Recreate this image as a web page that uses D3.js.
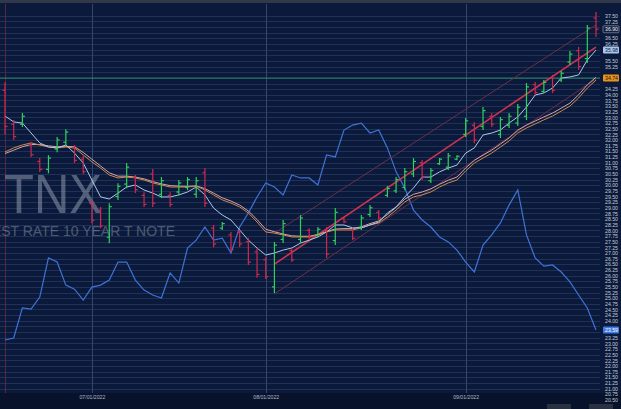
<!DOCTYPE html>
<html>
<head>
<meta charset="utf-8">
<script src="https://cdn.jsdelivr.net/npm/d3@7"></script>
<style>
  html, body { margin: 0; padding: 0; background: #0b1a3b; overflow: hidden; }
  svg { display: block; font-family: "Liberation Sans", Arial, sans-serif; }
</style>
</head>
<body>
<svg></svg>
<script>
var width = 621, height = 409;

// trading days, 16 Jun - 23 Sep 2022
var dates = ["06/16","06/17","06/21","06/22","06/23","06/24","06/27","06/28","06/29","06/30",
  "07/01","07/05","07/06","07/07","07/08","07/11","07/12","07/13","07/14","07/15",
  "07/18","07/19","07/20","07/21","07/22","07/25","07/26","07/27","07/28","07/29",
  "08/01","08/02","08/03","08/04","08/05","08/08","08/09","08/10","08/11","08/12",
  "08/15","08/16","08/17","08/18","08/19","08/22","08/23","08/24","08/25","08/26",
  "08/29","08/30","08/31",
  "09/01","09/02","09/06","09/07","09/08","09/09","09/12","09/13","09/14","09/15",
  "09/16","09/19","09/20","09/21","09/22","09/23"];

var opens = [34.20,32.70,32.70,31.80,31.05,30.70,31.60,31.90,31.65,31.15,
  29.20,28.90,27.70,29.50,30.05,30.35,29.55,30.50,29.60,29.55,
  29.70,29.90,29.60,30.55,28.10,28.10,27.80,27.90,27.50,27.05,
  26.70,25.50,27.60,27.10,27.60,28.00,27.80,28.00,27.55,28.55,
  28.00,28.10,28.70,28.80,29.55,29.75,29.90,30.50,31.00,30.20,
  30.95,30.80,31.15,
  32.25,32.65,32.60,33.05,32.25,32.65,32.75,33.05,34.45,34.15,
  34.75,34.65,35.45,35.95,35.60,37.40];
var highs = [34.55,32.88,33.19,31.91,31.20,31.33,32.13,32.48,31.78,31.30,
  29.35,29.04,29.20,30.09,30.98,30.45,29.69,30.72,30.36,29.69,
  30.23,30.36,30.36,30.76,28.24,28.37,27.93,28.02,27.66,27.22,
  26.82,27.49,28.46,27.22,28.68,28.10,28.15,28.15,28.99,28.59,
  28.10,28.68,29.12,28.90,29.96,30.36,30.76,31.20,31.11,30.76,
  31.20,31.42,31.33,
  32.97,32.79,33.46,33.19,33.02,33.19,33.59,34.52,34.57,34.65,
  34.88,35.05,35.94,36.11,37.09,37.66];
var lows = [32.25,32.00,32.57,31.25,30.58,30.53,31.46,31.77,30.98,30.50,
  28.32,28.10,27.43,29.35,29.87,29.65,29.03,29.03,29.43,29.03,
  29.56,29.78,29.43,29.03,27.26,28.02,27.04,27.26,26.47,25.90,
  25.85,25.23,27.44,26.60,27.44,27.58,27.70,26.78,27.35,28.32,
  27.58,28.02,28.59,28.46,29.47,29.65,29.78,30.36,30.23,30.10,
  30.90,30.67,31.10,
  32.13,31.86,32.44,32.57,32.09,32.53,32.62,32.88,33.99,34.08,
  34.08,34.57,35.32,35.10,35.41,36.56];
var closes = [32.60,32.15,33.05,31.35,30.70,31.20,32.00,32.35,31.10,30.60,
  28.45,28.20,29.05,29.95,30.80,29.80,29.15,29.20,30.20,29.15,
  30.10,30.25,30.20,29.20,27.40,28.30,27.15,27.40,26.60,26.05,
  25.95,27.35,28.30,26.70,28.55,27.70,28.05,26.95,28.80,28.38,
  27.65,28.55,29.00,28.55,29.85,30.25,30.60,31.05,30.35,30.65,
  31.15,31.30,31.28,
  32.85,32.00,33.30,32.70,32.90,33.05,33.45,34.35,34.10,34.55,
  34.20,34.95,35.80,35.25,36.95,36.90];

// fast average (light blue)
var maFast = [33.06,32.80,32.75,32.31,31.87,31.69,31.65,31.78,31.42,30.98,
  30.23,29.48,29.39,29.65,29.92,30.01,29.79,29.65,29.48,29.48,
  29.57,29.70,29.92,29.57,28.99,28.68,28.46,28.02,27.57,27.22,
  26.91,27.00,27.13,27.22,27.44,27.57,27.71,27.93,28.24,28.24,
  28.11,28.11,28.24,28.37,28.77,29.04,29.48,29.88,30.36,30.36,
  30.59,30.76,30.89,
  31.42,31.65,32.22,32.31,32.44,32.75,33.02,33.46,33.99,34.08,
  34.30,34.74,34.79,34.88,35.54,35.98];
// slow averages (tan and pink)
var maSlow = [31.47,31.65,31.78,31.87,31.78,31.69,31.65,31.69,31.65,31.34,
  31.03,30.76,30.45,30.32,30.36,30.32,30.23,30.10,30.01,29.92,
  29.92,29.92,29.96,29.79,29.57,29.35,29.21,29.04,28.77,28.37,
  27.93,27.88,27.80,27.71,27.71,27.71,27.80,27.93,28.02,28.02,
  28.02,28.11,28.24,28.33,28.59,28.90,29.26,29.48,29.57,29.70,
  29.92,30.10,30.23,
  30.63,30.98,31.20,31.42,31.69,31.96,32.31,32.53,32.71,32.89,
  33.06,33.28,33.50,33.86,34.30,34.65];
var maSlow2 = [31.40,31.55,31.70,31.80,31.80,31.74,31.70,31.72,31.70,31.45,
  31.15,30.85,30.55,30.40,30.40,30.36,30.28,30.16,30.06,29.98,
  29.96,29.95,29.97,29.85,29.65,29.44,29.30,29.12,28.86,28.48,
  28.05,27.94,27.84,27.76,27.74,27.74,27.82,27.95,28.06,28.08,
  28.08,28.16,28.30,28.42,28.70,29.02,29.38,29.60,29.70,29.84,
  30.04,30.22,30.36,
  30.76,31.10,31.33,31.55,31.82,32.09,32.44,32.66,32.84,33.02,
  33.19,33.41,33.63,34.00,34.44,34.78];

// comparison line (blue)
var compare = [23.15,23.24,24.57,24.52,25.05,26.78,26.60,25.58,25.40,24.92,
  25.49,25.58,25.80,26.60,26.60,25.80,25.36,25.14,25.01,26.12,
  25.67,27.22,27.57,28.15,27.57,27.66,27.00,28.15,28.77,29.48,
  30.10,29.92,29.57,30.45,30.32,30.32,30.01,31.34,31.25,32.44,
  32.66,32.75,32.31,32.44,31.65,30.59,29.88,28.90,28.46,28.15,
  27.71,27.49,27.13,
  26.60,26.16,27.35,27.80,28.33,29.12,29.79,27.80,26.78,26.42,
  26.47,26.16,25.72,25.14,24.57,23.59];

// trend channel, from 08/02 to 09/23
var channelDates = ["08/02","09/23"];
var channelUpper = [27.88,37.09];
var channelMid = [26.51,36.11];
var channelLower = [25.19,34.70];

var levelLine = 34.74;
var monthTicks = ["07/01","08/01","09/01"];

var svg = d3.select("svg").attr("width", width).attr("height", height);

var plotRight = 600, plotTop = 4, plotBottom = 393;

var x = d3.scalePoint().domain(dates).range([5, 596]);
var y = d3.scaleLinear().domain([20.5, 37.5]).range([399.9, 15.7]);

svg.append("rect").attr("width", width).attr("height", height).attr("fill", "#0b1a3b");
svg.append("rect").attr("width", width).attr("height", 3).attr("fill", "#30384a");
svg.append("rect").attr("y", plotBottom).attr("width", width).attr("height", height - plotBottom)
  .attr("fill", "#08122a");

svg.append("clipPath").attr("id", "plot")
  .append("rect").attr("x", 0).attr("y", plotTop).attr("width", plotRight).attr("height", plotBottom - plotTop);

var yTicks = d3.range(37.5, 20.4, -0.25);

// horizontal grid
svg.append("g")
  .selectAll("line")
  .data(yTicks.filter(function(d) { return y(d) < plotBottom; }))
  .enter().append("line")
  .attr("x1", 0).attr("x2", plotRight)
  .attr("y1", function(d) { return Math.round(y(d)) + 0.5; })
  .attr("y2", function(d) { return Math.round(y(d)) + 0.5; })
  .attr("stroke", "#1f3158").attr("stroke-width", 1);

// month lines
svg.append("g")
  .selectAll("line")
  .data(monthTicks)
  .enter().append("line")
  .attr("x1", function(d) { return Math.round(x(d)) + 0.5; })
  .attr("x2", function(d) { return Math.round(x(d)) + 0.5; })
  .attr("y1", plotTop).attr("y2", plotBottom)
  .attr("stroke", "#33466e").attr("stroke-width", 1);

// first day marker
svg.append("line")
  .attr("x1", x(dates[0]) + 0.5).attr("x2", x(dates[0]) + 0.5)
  .attr("y1", plotTop).attr("y2", plotBottom)
  .attr("stroke", "#7a2a45").attr("stroke-width", 1).attr("opacity", 0.7);

// level line
svg.append("line")
  .attr("x1", 0).attr("x2", plotRight)
  .attr("y1", y(levelLine)).attr("y2", y(levelLine))
  .attr("stroke", "#2a8a6c").attr("stroke-width", 1);

// watermark
svg.append("text").text("TNX")
  .attr("x", 4).attr("y", 213)
  .attr("font-size", 55).attr("textLength", 98).attr("lengthAdjust", "spacingAndGlyphs")
  .attr("fill", "#9aa2b6").attr("opacity", 0.5);
svg.append("text").text("INTEREST RATE 10 YEAR T NOTE")
  .attr("x", 175).attr("y", 236).attr("text-anchor", "end")
  .attr("font-size", 14)
  .attr("fill", "#9aa2b6").attr("opacity", 0.45);

var plot = svg.append("g").attr("clip-path", "url(#plot)");

function lineOf(vals) {
  return d3.line()
    .x(function(d, i) { return x(dates[i]); })
    .y(function(d) { return y(d); })(vals);
}

plot.append("path").attr("d", lineOf(compare))
  .attr("fill", "none").attr("stroke", "#3f73d6").attr("stroke-width", 1.2);

// channel
var chan = [
  {vals: channelUpper, color: "#6a3048", w: 1},
  {vals: channelLower, color: "#6a3048", w: 1},
  {vals: channelMid, color: "#d4334f", w: 1.6}
];
chan.forEach(function(c) {
  plot.append("line")
    .attr("x1", x(channelDates[0])).attr("y1", y(c.vals[0]))
    .attr("x2", x(channelDates[1])).attr("y2", y(c.vals[1]))
    .attr("stroke", c.color).attr("stroke-width", c.w);
});

plot.append("path").attr("d", lineOf(maSlow2))
  .attr("fill", "none").attr("stroke", "#d9a3a8").attr("stroke-width", 1);
plot.append("path").attr("d", lineOf(maSlow))
  .attr("fill", "none").attr("stroke", "#c98a4e").attr("stroke-width", 1);
plot.append("path").attr("d", lineOf(maFast))
  .attr("fill", "none").attr("stroke", "#a9c8ec").attr("stroke-width", 1);

// OHLC bars
var bars = dates.map(function(d, i) {
  return {date: d, o: opens[i], h: highs[i], l: lows[i], c: closes[i]};
});
var bar = plot.append("g").selectAll("g").data(bars).enter().append("g")
  .attr("stroke", function(d) { return d.c >= d.o ? "#2fd15a" : "#d2284e"; })
  .attr("stroke-width", 1.2);
bar.append("line")
  .attr("x1", function(d) { return x(d.date); }).attr("x2", function(d) { return x(d.date); })
  .attr("y1", function(d) { return y(d.h); }).attr("y2", function(d) { return y(d.l); });
bar.append("line")
  .attr("x1", function(d) { return x(d.date) - 2.5; }).attr("x2", function(d) { return x(d.date); })
  .attr("y1", function(d) { return y(d.o); }).attr("y2", function(d) { return y(d.o); });
bar.append("line")
  .attr("x1", function(d) { return x(d.date); }).attr("x2", function(d) { return x(d.date) + 2.5; })
  .attr("y1", function(d) { return y(d.c); }).attr("y2", function(d) { return y(d.c); });

// price flags on the axis
var last = dates.length - 1;
var flags = [
  {v: closes[last], fill: "#152040", stroke: "#9aa3b8", text: "#e6ebf3"},
  {v: maFast[last], fill: "#a9c6ee", stroke: "none", text: "#0b1a3b"},
  {v: levelLine, fill: "#e8921e", stroke: "none", text: "#1a1206"},
  {v: compare[last], fill: "#3f78e0", stroke: "none", text: "#ffffff"}
];

// right axis, labels under a flag are left out
var yAxis = d3.axisRight(y)
  .tickValues(yTicks.filter(function(t) {
    return flags.every(function(f) { return Math.abs(y(t) - y(f.v)) > 6; });
  }))
  .tickSize(0).tickPadding(0)
  .tickFormat(d3.format(".2f"));
var ya = svg.append("g").attr("transform", "translate(605,0)").call(yAxis);
ya.select(".domain").remove();
ya.selectAll("text").attr("fill", "#c3cbd9").attr("font-size", 5.2)
  .attr("font-family", "Liberation Sans, Arial, sans-serif");

// bottom axis
var xAxis = d3.axisBottom(x).tickValues(monthTicks).tickSize(0).tickPadding(0)
  .tickFormat(function(d) { return d + "/2022"; });
var xa = svg.append("g").attr("transform", "translate(0,395)").call(xAxis);
xa.select(".domain").remove();
xa.selectAll("text").attr("fill", "#aeb6c6").attr("font-size", 5.2)
  .attr("font-family", "Liberation Sans, Arial, sans-serif");

var flag = svg.append("g").selectAll("g").data(flags).enter().append("g")
  .attr("transform", function(d) { return "translate(603," + y(d.v) + ")"; });
flag.append("rect").attr("x", 0).attr("y", -3.5).attr("width", 16).attr("height", 7).attr("rx", 1)
  .attr("fill", function(d) { return d.fill; })
  .attr("stroke", function(d) { return d.stroke; }).attr("stroke-width", 0.6);
flag.append("text").attr("x", 2).attr("dy", "0.35em")
  .attr("font-size", 5.2).attr("fill", function(d) { return d.text; })
  .text(function(d) { return d3.format(".2f")(d.v); });

// small scroll boxes at the bottom right
svg.append("rect").attr("x", 547).attr("y", 404).attr("width", 24).attr("height", 5).attr("fill", "#2a3140");
svg.append("rect").attr("x", 589).attr("y", 404).attr("width", 24).attr("height", 5).attr("fill", "#2a3140");
</script>
</body>
</html>
